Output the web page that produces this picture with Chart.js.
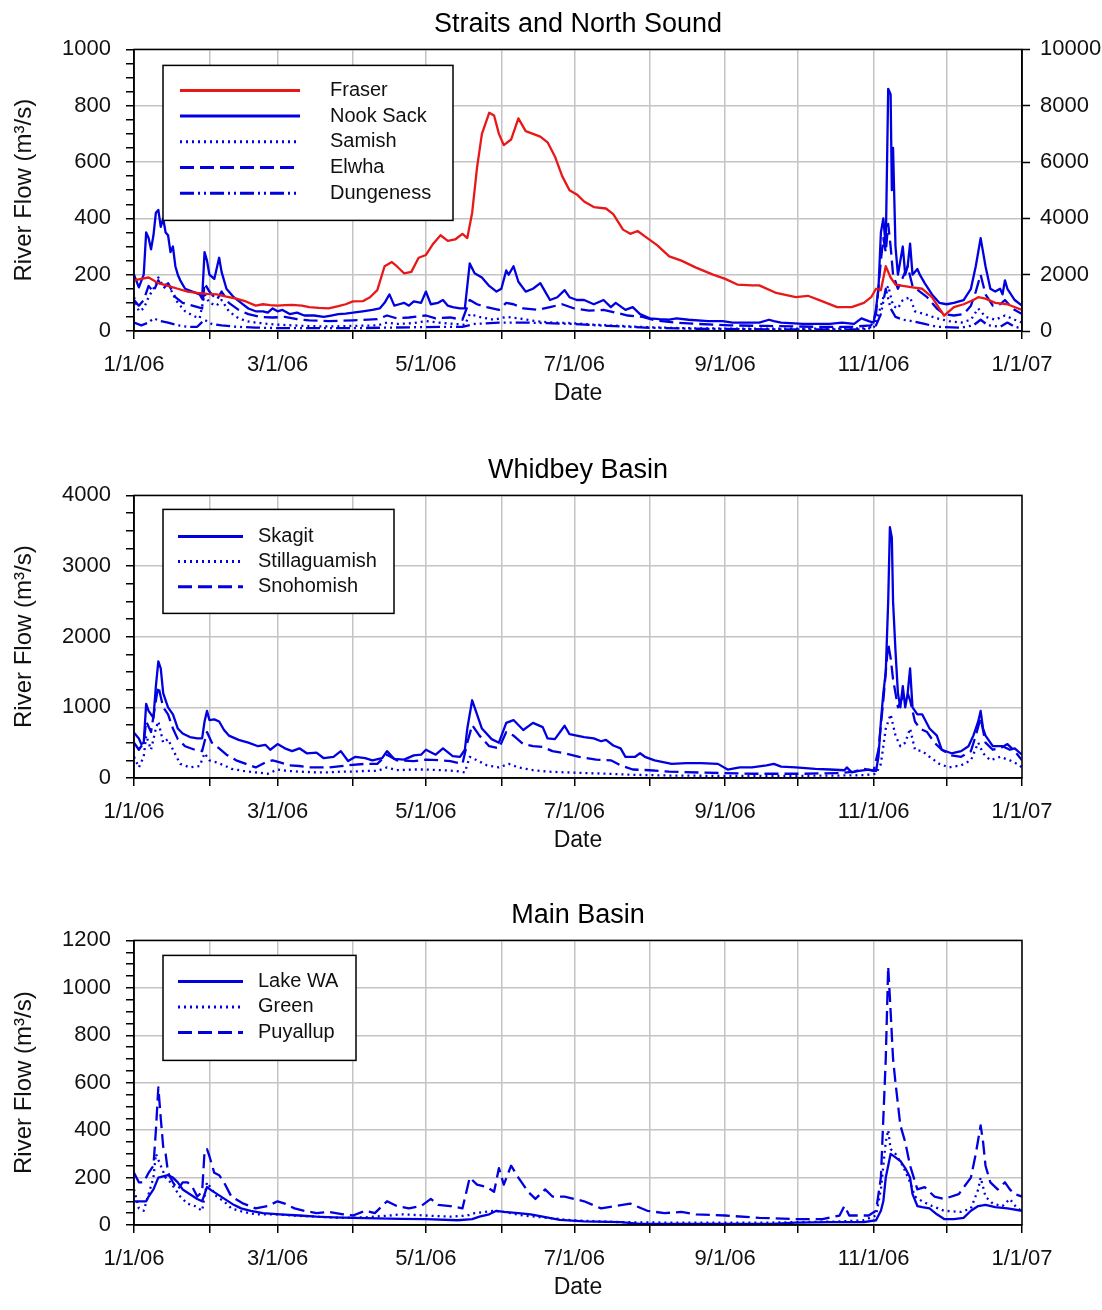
<!DOCTYPE html>
<html>
<head>
<meta charset="utf-8">
<title>River Flow 2006</title>
<script src="https://cdn.jsdelivr.net/npm/chart.js@4.4.1/dist/chart.umd.min.js"></script>
<style>
  body { margin: 0; background: #fff; }
  .wrap { position: relative; width: 1102px; height: 1310px; }
  .wrap canvas { position: absolute; left: 0; }
</style>
</head>
<body>
<div class="wrap">
  <canvas id="straits" width="1102" height="411" style="top:0px"></canvas>
  <canvas id="whidbey" width="1102" height="412" style="top:446px"></canvas>
  <canvas id="mainbasin" width="1102" height="414" style="top:891px"></canvas>
</div>
<script>
// X axis: day of year counted from 1/1/06
const monthStarts = [0, 31, 59, 90, 120, 151, 181, 212, 243, 273, 304, 334, 365];
const monthLabels = ["1/1/06", "", "3/1/06", "", "5/1/06", "", "7/1/06", "", "9/1/06", "", "11/1/06", "", "1/1/07"];

// Straits and North Sound - [day, m3/s]
const fraser = [[0,1800],[3,1850],[6,1900],[10,1700],[14,1600],[18,1500],[22,1400],[26,1350],[30,1320],[34,1300],[38,1220],[42,1150],[46,1050],[50,900],[53,950],[56,920],[59,900],[62,920],[65,930],[69,900],[72,850],[76,820],[80,800],[84,880],[87,950],[90,1050],[94,1060],[97,1200],[100,1450],[103,2300],[106,2450],[108,2300],[111,2050],[114,2100],[117,2600],[120,2700],[123,3100],[126,3400],[129,3200],[132,3250],[135,3450],[137,3300],[139,4200],[141,5800],[143,7000],[146,7750],[148,7650],[150,7000],[152,6600],[155,6800],[158,7550],[161,7100],[164,7000],[167,6900],[170,6700],[173,6200],[176,5500],[179,5000],[182,4850],[185,4600],[189,4400],[194,4350],[197,4150],[201,3600],[204,3450],[207,3550],[211,3300],[215,3050],[220,2650],[225,2500],[231,2250],[238,2000],[243,1850],[248,1650],[254,1620],[257,1620],[264,1350],[272,1200],[277,1250],[283,1050],[289,850],[295,850],[300,1000],[303,1200],[305,1500],[307,1450],[309,2300],[311,1900],[313,1650],[316,1600],[320,1550],[324,1500],[328,1200],[331,800],[333,550],[337,850],[341,950],[345,1100],[347,1200],[350,1150],[354,1000],[359,950],[365,750]];
const nookSack = [[0,200],[2,155],[4,200],[5,350],[6,330],[7,290],[8,340],[9,420],[10,430],[11,370],[12,400],[13,350],[14,340],[15,280],[16,300],[17,230],[18,200],[19,180],[21,150],[24,140],[27,130],[28,115],[29,280],[30,250],[31,200],[33,185],[35,260],[36,210],[38,150],[41,120],[44,100],[47,80],[50,70],[53,70],[55,65],[57,80],[59,70],[61,75],[64,60],[67,65],[70,55],[74,55],[78,50],[81,55],[84,60],[87,62],[90,65],[94,70],[98,75],[101,80],[103,100],[105,130],[107,90],[109,95],[111,100],[113,90],[115,105],[118,100],[120,140],[122,95],[125,100],[127,110],[129,90],[131,85],[134,80],[136,80],[138,240],[140,205],[143,190],[146,160],[149,140],[151,150],[153,215],[154,200],[156,230],[158,175],[161,140],[164,150],[167,170],[169,140],[171,110],[174,120],[177,145],[179,120],[182,110],[185,110],[189,95],[193,110],[196,85],[198,100],[202,75],[205,85],[208,60],[212,45],[216,42],[220,40],[223,45],[228,40],[236,35],[242,35],[246,30],[252,30],[257,30],[261,40],[263,35],[266,30],[275,25],[286,25],[291,30],[296,25],[299,45],[302,35],[304,30],[305,80],[306,150],[307,350],[308,400],[309,300],[310,860],[311,840],[311.5,500],[312,650],[313,300],[314,200],[315,250],[316,300],[317,200],[318,230],[319,310],[320,200],[322,220],[323,200],[325,170],[328,130],[331,100],[334,95],[337,100],[341,110],[344,150],[346,230],[348,330],[349,280],[350,230],[352,150],[354,140],[356,150],[357,130],[358,180],[359,150],[362,110],[365,90]];
const samish = [[0,120],[2,70],[4,80],[6,120],[8,150],[10,190],[12,160],[14,170],[16,130],[18,100],[21,70],[24,55],[27,45],[29,130],[31,100],[34,90],[36,110],[39,70],[42,50],[46,35],[50,30],[55,25],[60,22],[70,18],[80,16],[90,18],[100,20],[104,30],[108,25],[115,28],[120,35],[125,30],[132,25],[136,22],[138,60],[142,50],[148,40],[153,50],[158,45],[165,35],[172,30],[180,28],[190,22],[200,18],[210,14],[225,10],[250,8],[275,8],[300,9],[304,10],[306,60],[308,120],[310,160],[312,90],[314,80],[316,110],[319,120],[321,70],[325,60],[330,45],[335,35],[340,30],[344,40],[347,80],[350,50],[354,40],[358,55],[362,40],[365,30]];
const elwha = [[0,110],[2,90],[4,110],[6,160],[8,140],[10,180],[12,150],[14,170],[17,120],[20,100],[24,90],[28,80],[29,170],[31,140],[34,110],[36,140],[39,100],[43,75],[47,60],[52,50],[57,48],[62,50],[67,42],[72,38],[80,35],[90,38],[100,42],[104,55],[108,45],[113,48],[120,55],[124,45],[130,48],[135,40],[138,110],[141,95],[145,85],[150,75],[153,100],[156,95],[160,80],[166,75],[171,85],[176,95],[181,80],[187,72],[193,75],[198,65],[203,55],[209,50],[214,38],[222,30],[232,25],[245,20],[260,18],[280,15],[295,15],[303,20],[305,60],[307,250],[308,330],[309,280],[310,380],[311,300],[312,200],[314,150],[316,190],[318,230],[320,160],[323,140],[326,120],[330,80],[333,60],[337,55],[341,60],[344,90],[346,140],[348,200],[350,130],[353,90],[356,95],[358,110],[361,80],[365,60]];
const dungeness = [[0,30],[3,20],[6,30],[8,45],[11,35],[14,30],[18,20],[22,15],[26,15],[29,40],[32,25],[36,20],[42,15],[50,12],[60,10],[75,10],[90,10],[105,12],[120,14],[135,15],[140,25],[150,30],[160,30],[170,28],[180,25],[195,18],[210,12],[230,8],[260,6],[300,6],[305,20],[307,60],[309,150],[311,80],[313,50],[316,40],[320,35],[325,25],[330,15],[340,12],[345,20],[348,40],[351,20],[356,15],[359,30],[362,15],[365,10]];

// Whidbey Basin
const skagit = [[0,640],[2,560],[3,480],[4,500],[5,1050],[6,950],[7,900],[8,850],[9,1300],[10,1650],[11,1550],[12,1200],[13,1100],[14,1000],[15,950],[16,900],[17,800],[18,700],[20,630],[23,580],[26,560],[28,560],[29,800],[30,950],[31,820],[33,830],[35,800],[37,680],[39,600],[43,540],[47,500],[51,450],[54,470],[56,400],[59,480],[62,420],[65,380],[68,420],[71,350],[75,360],[78,280],[82,300],[85,380],[88,240],[91,300],[95,280],[98,250],[102,280],[104,380],[107,270],[111,260],[115,320],[118,330],[120,400],[124,330],[127,420],[131,310],[134,300],[136,400],[137,700],[139,1100],[140,1000],[143,700],[147,550],[150,500],[153,780],[156,820],[158,750],[160,680],[164,780],[168,720],[170,560],[173,550],[177,740],[179,620],[185,580],[189,560],[192,520],[194,540],[197,460],[200,420],[202,300],[206,300],[208,350],[210,300],[214,250],[221,200],[227,210],[233,210],[240,200],[244,120],[249,150],[254,150],[260,180],[263,200],[266,160],[272,150],[280,130],[286,120],[292,110],[293,150],[295,80],[298,100],[302,120],[305,100],[306,300],[307,800],[308,1200],[309,1500],[310,2500],[310.7,3550],[311.5,3400],[312,2500],[313,1800],[314,1200],[315,1000],[316,1300],[317,1000],[318,1200],[319,1550],[320,1000],[322,900],[324,900],[327,700],[330,600],[332,400],[336,350],[340,380],[343,450],[345,600],[346,700],[347,800],[348,950],[349,700],[350,600],[353,450],[357,450],[360,400],[362,420],[365,330]];
const stillaguamish = [[0,300],[2,150],[4,300],[5,600],[7,400],[9,700],[10,800],[12,500],[14,550],[16,400],[19,200],[23,150],[27,170],[29,350],[31,250],[34,220],[37,180],[40,130],[45,100],[50,80],[55,60],[59,120],[63,100],[68,90],[75,80],[80,80],[85,90],[90,90],[95,100],[100,100],[104,150],[108,110],[115,120],[120,120],[127,110],[132,100],[136,80],[138,300],[141,250],[145,180],[150,150],[154,200],[158,150],[164,110],[170,90],[177,80],[185,70],[195,60],[205,45],[220,35],[240,30],[270,30],[290,35],[300,40],[305,60],[307,200],[309,700],[311,900],[313,600],[315,450],[317,500],[319,700],[321,400],[324,380],[327,300],[331,200],[335,150],[340,180],[344,250],[347,500],[349,350],[352,250],[356,300],[360,250],[363,200],[365,150]];
const snohomish = [[0,500],[2,400],[4,500],[5,800],[7,650],[9,1100],[10,1300],[12,1000],[14,900],[16,700],[18,550],[21,450],[25,400],[28,380],[30,650],[32,500],[35,420],[38,330],[42,250],[46,200],[50,150],[54,220],[57,250],[60,220],[64,180],[68,170],[72,150],[80,150],[88,180],[95,200],[100,200],[104,330],[108,250],[115,240],[120,260],[126,250],[130,240],[135,200],[137,500],[139,750],[142,600],[146,450],[150,420],[153,650],[156,600],[160,480],[164,450],[168,440],[172,380],[177,350],[183,300],[190,260],[196,250],[200,180],[205,120],[212,110],[220,90],[235,75],[255,60],[275,60],[290,70],[296,90],[300,130],[304,100],[306,400],[308,1100],[310,1900],[311,1700],[312,1400],[314,1000],[316,1150],[318,1200],[319,1100],[321,800],[323,700],[326,650],[329,500],[332,400],[336,320],[340,300],[344,380],[346,600],[348,850],[350,500],[353,400],[356,420],[359,480],[362,380],[365,250]];

// Main Basin
const lakeWA = [[0,100],[3,100],[5,100],[6,120],[8,150],[10,200],[12,205],[14,210],[16,200],[18,180],[20,150],[23,130],[26,110],[28,100],[30,160],[32,145],[35,125],[38,105],[41,85],[44,70],[48,60],[53,50],[60,45],[68,40],[75,35],[82,32],[90,30],[100,28],[110,26],[120,25],[133,20],[139,25],[142,35],[146,45],[149,60],[152,55],[158,50],[163,45],[168,35],[175,22],[185,15],[200,12],[208,5],[230,5],[262,5],[272,10],[286,12],[300,12],[305,20],[307,60],[308,100],[309,200],[310,250],[311,300],[313,285],[315,270],[317,240],[319,200],[320,130],[322,80],[324,75],[327,70],[330,45],[333,25],[337,25],[341,30],[344,60],[347,80],[350,85],[354,75],[359,70],[365,60]];
const green = [[0,150],[2,70],[4,60],[6,130],[8,200],[9,300],[11,250],[13,200],[15,180],[17,150],[19,120],[22,90],[25,80],[28,60],[30,180],[32,150],[34,120],[37,100],[40,70],[45,55],[50,45],[58,45],[65,40],[75,35],[85,30],[95,32],[105,40],[110,45],[120,40],[130,35],[137,40],[140,50],[148,60],[152,55],[160,40],[170,30],[180,20],[200,12],[220,10],[260,10],[290,15],[300,20],[305,40],[307,150],[309,350],[310,400],[311,320],[313,300],[316,250],[319,180],[321,120],[324,100],[328,80],[333,60],[340,55],[344,70],[347,150],[348,200],[350,120],[353,90],[357,80],[360,110],[363,70],[365,60]];
const puyallup = [[0,220],[2,180],[4,180],[6,220],[8,250],[9,400],[10,580],[11,450],[12,330],[13,300],[14,220],[16,180],[18,150],[20,180],[22,180],[24,160],[26,120],[28,140],[29,310],[30,320],[31,290],[33,220],[35,210],[37,180],[40,120],[45,90],[50,70],[55,80],[59,100],[62,90],[66,70],[70,60],[75,50],[80,55],[86,45],[90,40],[95,60],[99,50],[104,100],[108,80],[113,70],[118,80],[122,110],[125,85],[130,80],[135,70],[138,200],[141,170],[145,160],[148,140],[150,240],[152,170],[155,250],[158,200],[162,140],[165,110],[169,150],[172,120],[177,120],[181,110],[185,100],[192,70],[198,80],[204,90],[211,60],[218,50],[225,55],[231,45],[243,40],[257,30],[272,25],[283,25],[290,40],[292,80],[294,40],[302,40],[305,60],[307,200],[309,700],[310,1090],[311,900],[312,700],[313,600],[315,420],[317,350],[319,250],[322,150],[325,160],[329,120],[333,110],[339,130],[344,200],[346,300],[348,420],[349,350],[350,250],[352,180],[355,150],[358,180],[360,150],[362,130],[365,120]];

const FONT = "'Liberation Sans', Arial, sans-serif";
const BLUE = "#0000e0";
const RED = "#e81818";
const GRID = "#c4c4c4";
const TEXT = "#111";

const toPoints = (series) => series.map((p) => ({ x: p[0], y: p[1] }));

// black box round the plot area
const frameBorder = {
  id: "frameBorder",
  afterDatasetsDraw(chart) {
    const { ctx, chartArea: { left, top, width, height } } = chart;
    ctx.save();
    ctx.strokeStyle = "#000";
    ctx.lineWidth = 1.5;
    ctx.strokeRect(left, top, width, height);
    ctx.restore();
  },
};

// legend in a framed box inside the plot (offsets from the box corner)
const boxLegend = {
  id: "boxLegend",
  afterDraw(chart, args, opts) {
    const { ctx, chartArea } = chart;
    const x = chartArea.left + opts.x;
    const y = chartArea.top + opts.y;
    ctx.save();
    ctx.fillStyle = "#fff";
    ctx.fillRect(x, y, opts.w, opts.h);
    ctx.strokeStyle = "#000";
    ctx.lineWidth = 1.5;
    ctx.strokeRect(x, y, opts.w, opts.h);
    ctx.font = "20px " + FONT;
    ctx.textBaseline = "middle";
    chart.data.datasets.forEach((ds, i) => {
      const rowY = y + opts.firstRow + i * opts.rowGap;
      ctx.beginPath();
      ctx.setLineDash(ds.borderDash || []);
      ctx.strokeStyle = ds.borderColor;
      ctx.lineWidth = 3;
      ctx.moveTo(x + opts.lineFrom, rowY);
      ctx.lineTo(x + opts.lineTo, rowY);
      ctx.stroke();
      ctx.setLineDash([]);
      ctx.fillStyle = TEXT;
      ctx.fillText(ds.label, x + opts.textX, rowY);
    });
    ctx.restore();
  },
};

function line(label, series, color, dash, axis) {
  return {
    label: label,
    data: toPoints(series),
    borderColor: color,
    borderWidth: 2.3,
    borderDash: dash,
    borderJoinStyle: "round",
    pointRadius: 0,
    tension: 0,
    fill: false,
    yAxisID: axis || "y",
  };
}

function xScale() {
  return {
    type: "linear",
    min: 0,
    max: 365,
    afterBuildTicks: (scale) => {
      scale.ticks = monthStarts.map((v) => ({ value: v }));
    },
    afterFit: (scale) => {
      scale.height = 80;
    },
    ticks: {
      autoSkip: false,
      maxRotation: 0,
      padding: 13,
      color: TEXT,
      font: { family: FONT, size: 22 },
      callback: (value, index) => monthLabels[index],
    },
    grid: { color: GRID, lineWidth: 1.5, tickLength: 8, tickColor: "#000", tickWidth: 1.5 },
    border: { color: "#000", width: 1.5 },
    title: {
      display: true,
      text: "Date",
      color: TEXT,
      font: { family: FONT, size: 23 },
      padding: { top: 0, bottom: 4 },
    },
  };
}

function yScale(max, major, minor) {
  return {
    position: "left",
    min: 0,
    max: max,
    afterBuildTicks: (scale) => {
      const list = [];
      for (let v = 0; v <= max; v += minor) list.push({ value: v });
      scale.ticks = list;
    },
    afterFit: (scale) => {
      scale.width = 134;
    },
    ticks: {
      autoSkip: false,
      padding: 15,
      color: TEXT,
      font: { family: FONT, size: 22 },
      callback: (value) => (value % major === 0 ? String(value) : ""),
    },
    grid: {
      color: (c) => (c.tick && c.tick.value % major === 0 ? GRID : "rgba(0,0,0,0)"),
      lineWidth: 1.5,
      tickLength: 8,
      tickColor: "#000",
      tickWidth: 1.5,
    },
    border: { color: "#000", width: 1.5 },
    title: {
      display: true,
      text: "River Flow (m³/s)",
      color: TEXT,
      font: { family: FONT, size: 24 },
      padding: { top: 10, bottom: 0 },
    },
  };
}

function makeChart(id, title, datasets, scales, legendBox, padRight) {
  return new Chart(document.getElementById(id), {
    type: "line",
    data: { datasets: datasets },
    options: {
      responsive: false,
      animation: false,
      events: [],
      layout: { padding: { left: 0, right: padRight, top: 0, bottom: 0 } },
      plugins: {
        legend: { display: false },
        tooltip: { enabled: false },
        title: {
          display: true,
          text: title,
          color: "#000",
          fullSize: false,
          font: { family: FONT, size: 27, weight: "normal" },
          padding: { top: 8, bottom: 9 },
        },
        boxLegend: legendBox,
      },
      scales: scales,
    },
    plugins: [frameBorder, boxLegend],
  });
}

document.addEventListener("DOMContentLoaded", function () {
  // Straits and North Sound (Fraser on the right axis)
  makeChart(
    "straits",
    "Straits and North Sound",
    [
      line("Fraser", fraser, RED, [], "yRight"),
      line("Nook Sack", nookSack, BLUE, []),
      line("Samish", samish, BLUE, [2, 4]),
      line("Elwha", elwha, BLUE, [14, 6]),
      line("Dungeness", dungeness, BLUE, [14, 4, 2, 4, 2, 4]),
    ],
    {
      x: xScale(),
      y: yScale(1000, 200, 50),
      yRight: {
        position: "right",
        min: 0,
        max: 10000,
        afterFit: (scale) => {
          scale.width = 80;
        },
        ticks: {
          stepSize: 2000,
          padding: 10,
          color: TEXT,
          font: { family: FONT, size: 22 },
          callback: (value) => String(value),
        },
        grid: { drawOnChartArea: false, tickLength: 8, tickColor: "#000", tickWidth: 1.5 },
        border: { color: "#000", width: 1.5 },
      },
    },
    { x: 29, y: 16, w: 290, h: 155, firstRow: 25, rowGap: 25.7, lineFrom: 17, lineTo: 137, textX: 167 },
    0
  );

  makeChart(
    "whidbey",
    "Whidbey Basin",
    [
      line("Skagit", skagit, BLUE, []),
      line("Stillaguamish", stillaguamish, BLUE, [2, 4]),
      line("Snohomish", snohomish, BLUE, [14, 6]),
    ],
    { x: xScale(), y: yScale(4000, 1000, 250) },
    { x: 29, y: 14, w: 231, h: 104, firstRow: 27, rowGap: 25.2, lineFrom: 15, lineTo: 80, textX: 95 },
    80
  );

  makeChart(
    "mainbasin",
    "Main Basin",
    [
      line("Lake WA", lakeWA, BLUE, []),
      line("Green", green, BLUE, [2, 4]),
      line("Puyallup", puyallup, BLUE, [14, 6]),
    ],
    { x: xScale(), y: yScale(1200, 200, 50) },
    { x: 29, y: 15, w: 193, h: 105, firstRow: 26, rowGap: 25.5, lineFrom: 15, lineTo: 80, textX: 95 },
    80
  );
});
</script>
</body>
</html>
